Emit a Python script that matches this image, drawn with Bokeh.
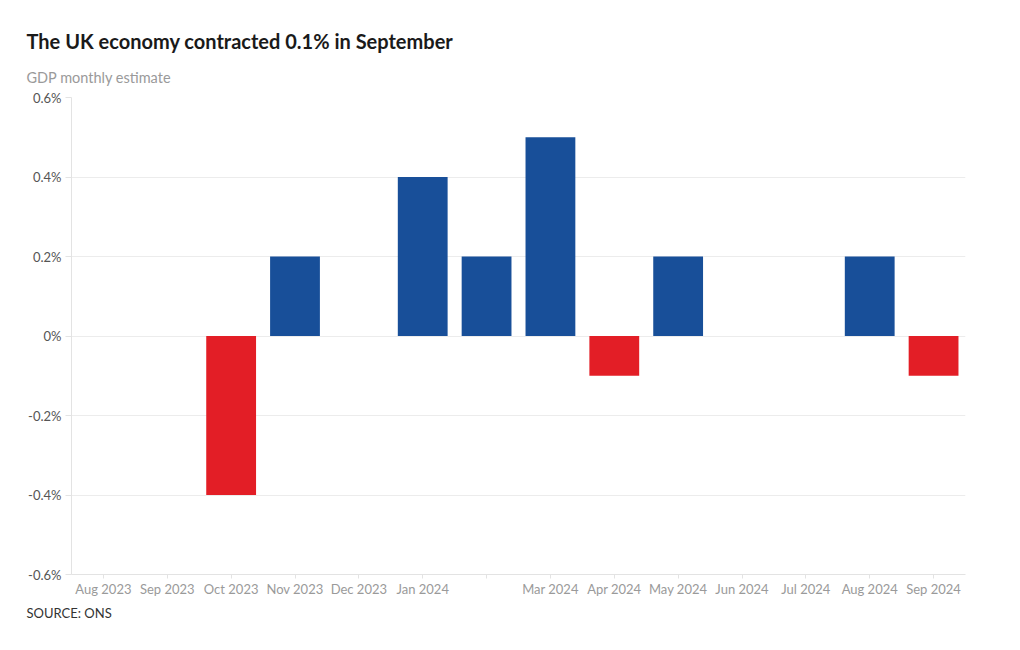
from bokeh.plotting import figure
from bokeh.models import CustomJSTickFormatter, ColumnDataSource, FixedTicker, Title, Range1d
from bokeh.embed import file_html
from bokeh.resources import INLINE

months = ["Aug 2023", "Sep 2023", "Oct 2023", "Nov 2023", "Dec 2023", "Jan 2024",
          "Feb 2024", "Mar 2024", "Apr 2024", "May 2024", "Jun 2024", "Jul 2024",
          "Aug 2024", "Sep 2024"]
values = [0.0, 0.0, -0.4, 0.2, 0.0, 0.4, 0.2, 0.5, -0.1, 0.2, 0.0, 0.0, 0.2, -0.1]
hidden_labels = ["Feb 2024"]
y_ticks = [-0.6, -0.4, -0.2, 0.0, 0.2, 0.4, 0.6]

BLUE = "#184f99"
RED = "#e31e26"
colors = [RED if v < 0 else BLUE for v in values]
xs = list(range(len(months)))

src = ColumnDataSource(dict(x=xs, month=months, value=values, color=colors))

FONT = "Lato"

p = figure(x_range=Range1d(-0.5, len(months) - 0.5), y_range=Range1d(-0.6, 0.6),
           width=1005, height=630, output_backend="svg", toolbar_location=None,
           min_border_left=71, min_border_right=40, min_border_top=97,
           min_border_bottom=56)
p.title.visible = False

p.vbar(x="x", top="value", bottom=0, width=0.78, color="color",
       line_color=None, source=src)

p.outline_line_color = None
p.xgrid.visible = False
p.ygrid.grid_line_color = "#ececec"
p.ygrid.grid_line_width = 1

p.yaxis.ticker = FixedTicker(ticks=y_ticks)
p.yaxis.formatter = CustomJSTickFormatter(code="return (Math.round(tick*10)/10) + '%';")
p.yaxis.axis_line_color = "#e3e3e3"
p.yaxis.major_tick_line_color = "#e3e3e3"
p.yaxis.major_tick_out = 6
p.yaxis.major_tick_in = 0
p.yaxis.minor_tick_line_color = None
p.yaxis.major_label_standoff = 4
p.yaxis.major_label_text_font = FONT
p.yaxis.major_label_text_font_size = "13px"
p.yaxis.major_label_text_color = "#555555"

p.xaxis.ticker = FixedTicker(ticks=xs)
p.xaxis.major_label_overrides = {i: ("" if m in hidden_labels else m) for i, m in enumerate(months)}
p.xaxis.axis_line_color = "#e3e3e3"
p.xaxis.major_tick_line_color = "#e3e3e3"
p.xaxis.major_tick_out = 4
p.xaxis.major_tick_in = 0
p.xaxis.minor_tick_line_color = None
p.xaxis.major_label_standoff = 2
p.xaxis.major_label_text_font = FONT
p.xaxis.major_label_text_font_size = "13px"
p.xaxis.major_label_text_color = "#9a9a9a"

p.add_layout(Title(text="GDP monthly estimate", text_font=FONT,
                   text_font_size="14.5px", text_font_style="normal",
                   text_color="#9a9a9a", align="left", offset=-45, standoff=23), "above")
p.add_layout(Title(text="The UK economy contracted 0.1% in September", text_font=FONT,
                   text_font_size="20px", text_font_style="bold",
                   text_color="#1a1a1a", align="left", offset=-45, standoff=6), "above")
p.add_layout(Title(text="SOURCE: ONS", text_font=FONT,
                   text_font_size="13px", text_font_style="normal",
                   text_color="#333333", align="left", offset=-45, standoff=6), "below")

open("out.html", "w").write(file_html(p, INLINE))
